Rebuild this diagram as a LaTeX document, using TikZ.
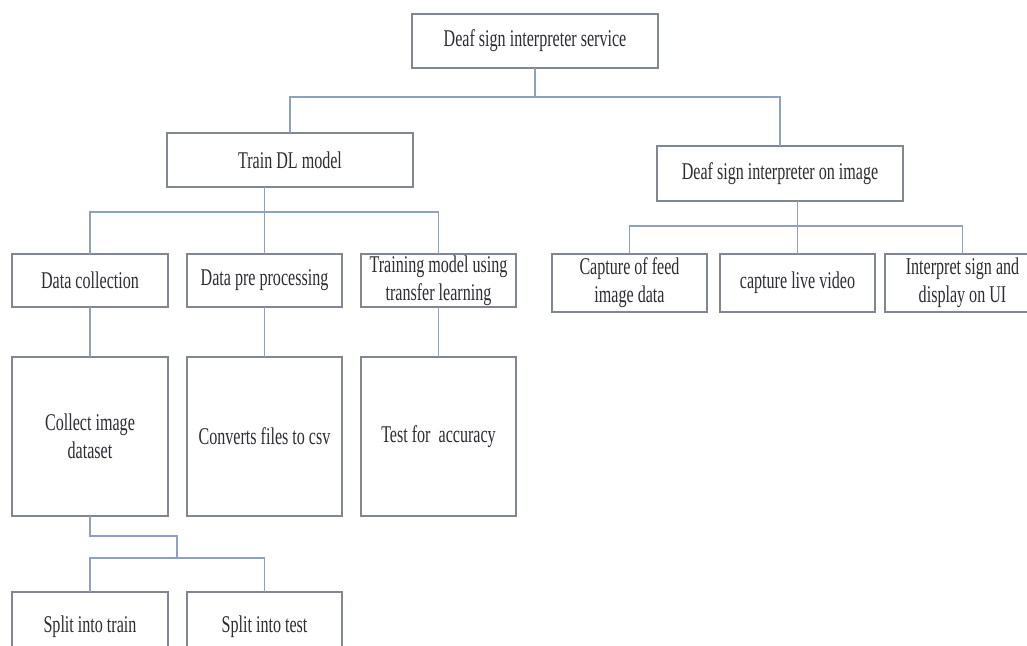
\documentclass[tikz,border=0pt]{standalone}
\usepackage{fontspec}
\setmainfont{Liberation Serif}[FakeStretch=0.67]
\definecolor{conncol}{RGB}{142,162,192}
\definecolor{boxcol}{RGB}{128,134,146}
\definecolor{txtcol}{RGB}{45,45,50}
\tikzset{
  bx/.style={draw=boxcol, line width=1.4pt, rectangle, inner sep=0pt, outer sep=0pt,
    align=center, text=txtcol, font=\fontsize{24}{28}\selectfont},
  conn/.style={draw=conncol, line width=1.3pt}
}
\begin{document}
\begin{tikzpicture}[x=1pt,y=-1pt]
\useasboundingbox (0,0) rectangle (1027,645);
\clip (0,0) rectangle (1027,645);
\fill[white] (0,0) rectangle (1027,645);
% level 0
\node[bx, minimum width=246pt, minimum height=54pt] (top) at (535,41) {Deaf sign interpreter service};
% level 1
\node[bx, minimum width=246pt, minimum height=54pt] (train) at (290,160) {Train DL model};
\node[bx, minimum width=246pt, minimum height=55pt] (img) at (780,173.5) {Deaf sign interpreter on image};
% level 2 left
\node[bx, minimum width=156pt, minimum height=53pt] (dc) at (90,280.5) {Data collection};
\node[bx, minimum width=155pt, minimum height=53pt] (dp) at (264.5,280.5) {Data pre processing};
\node[bx, minimum width=155pt, minimum height=53pt] (tm) at (438.5,280.5) {Training model using\\transfer learning};
% level 2 right
\node[bx, minimum width=155pt, minimum height=58pt] (feed) at (629.5,283) {Capture of feed\\image data};
\node[bx, minimum width=155pt, minimum height=58pt] (live) at (797.5,283) {capture live video};
\node[bx, minimum width=155pt, minimum height=58pt] (interp) at (962.5,283) {Interpret sign and\\display on UI};
% level 3
\node[bx, minimum width=156pt, minimum height=159pt] (collect) at (90,436.5) {Collect image\\dataset};
\node[bx, minimum width=155pt, minimum height=159pt] (conv) at (264.5,436.5) {Converts files to csv};
\node[bx, minimum width=155pt, minimum height=159pt] (test) at (438.5,436.5) {Test for\ \ accuracy};
% level 4
\node[bx, minimum width=156pt, minimum height=70pt] (st) at (90,627) {Split into train};
\node[bx, minimum width=155pt, minimum height=70pt] (se) at (264.5,627) {Split into test};
% connectors
\coordinate (k1) at (177,536);
\coordinate (sj) at (177,558);
\draw[conn] (top.south) -- ++(0,29) -| (train.north);
\draw[conn] (top.south) ++(0,29) -| (img.north);
\draw[conn] (dp.north |- train.south) -- (dp.north);
\draw[conn] (dc.north) -- ++(0,-42) -| (tm.north);
\draw[conn] (dc.south) -- (collect.north);
\draw[conn] (dp.south) -- (conv.north);
\draw[conn] (tm.south) -- (test.north);
\draw[conn] (collect.south) |- (k1) -- (sj);
\draw[conn] (st.north) |- (sj) -| (se.north);
\draw[conn] (live.north |- img.south) -- (live.north);
\draw[conn] (feed.north) -- ++(0,-28) -| (interp.north);
\end{tikzpicture}
\end{document}
